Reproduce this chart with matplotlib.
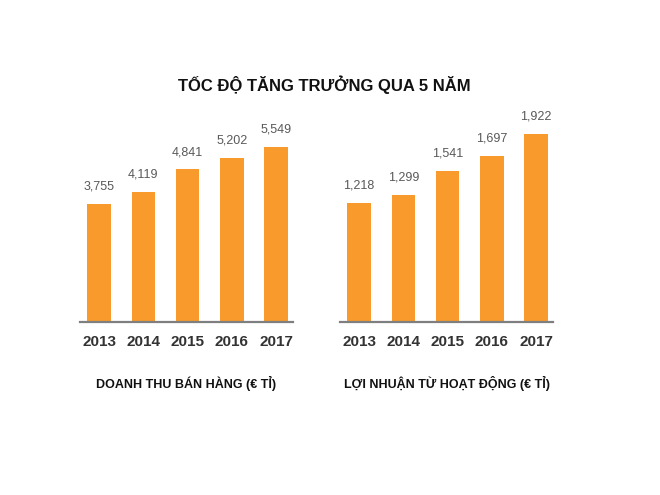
import matplotlib
matplotlib.use("Agg")
import matplotlib.pyplot as plt

years = ["2013", "2014", "2015", "2016", "2017"]
revenue = [3755, 4119, 4841, 5202, 5549]
profit = [1218, 1299, 1541, 1697, 1922]

title = "TỐC ĐỘ TĂNG TRƯỞNG QUA 5 NĂM"
revenue_label = "DOANH THU BÁN HÀNG (€ TỈ)"
profit_label = "LỢI NHUẬN TỪ HOẠT ĐỘNG (€ TỈ)"

bar_color = "#F89A2C"
fam = ["Liberation Sans", "DejaVu Sans"]


def draw_panel(ax, values, ymax, caption):
    x = list(range(len(years)))
    ax.bar(x, values, width=0.53, color=bar_color)
    for xi, v in zip(x, values):
        ax.annotate(f"{v:,}", (xi, v), xytext=(0, 8), textcoords="offset points",
                    ha="center", va="bottom", fontsize=9, color="#595959",
                    family=fam)
    ax.set_xlim(-0.43, 4.38)
    ax.set_ylim(0, ymax)
    for s in ["top", "right", "left"]:
        ax.spines[s].set_visible(False)
    ax.spines["bottom"].set_color("#7f7f7f")
    ax.spines["bottom"].set_linewidth(1.6)
    ax.set_yticks([])
    ax.set_xticks(x)
    ax.set_xticklabels(years, fontsize=11, fontweight="bold", color="#333333",
                       family=fam)
    ax.tick_params(axis="x", length=0, pad=9)
    ax.text(0.5, -0.29, caption, transform=ax.transAxes, ha="center", va="center",
            fontsize=9, fontweight="bold", color="#111111", family=fam)


def main():
    fig = plt.figure(figsize=(6.6, 4.95), dpi=100)
    ax1 = fig.add_axes([80 / 660, 173 / 495, 213 / 660, 212 / 495])
    ax2 = fig.add_axes([340 / 660, 173 / 495, 213 / 660, 212 / 495])

    draw_panel(ax1, revenue, 212 * 31.7, revenue_label)
    draw_panel(ax2, profit, 212 * 10.2, profit_label)

    fig.text(324 / 660, 1 - 85 / 495, title, ha="center", va="center",
             fontsize=12, fontweight="bold", color="#111111", family=fam)

    fig.savefig("out.png", dpi=100, facecolor="white")


if __name__ == "__main__":
    main()
